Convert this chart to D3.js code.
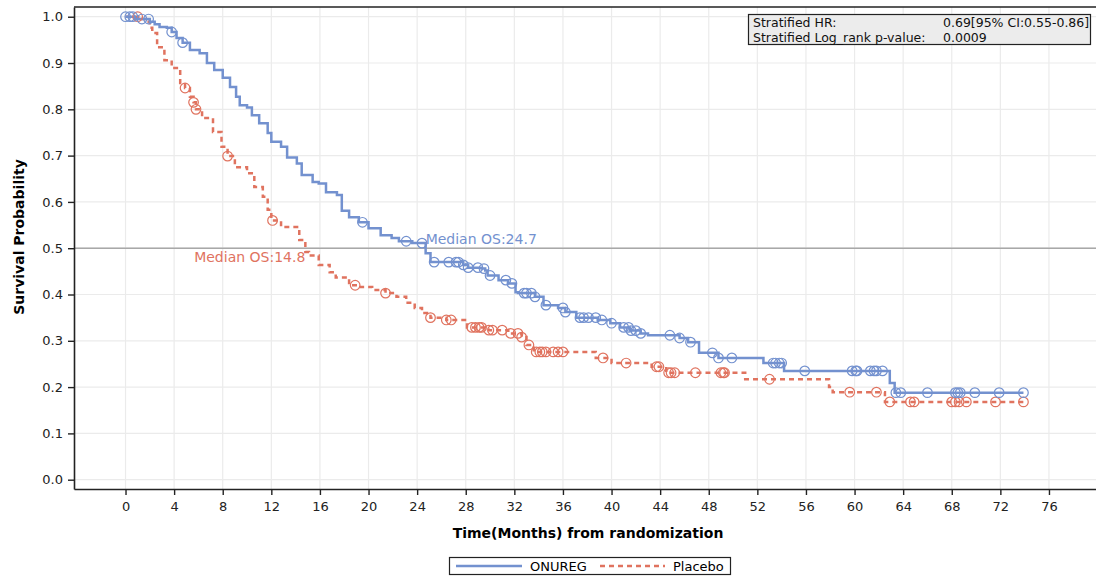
<!DOCTYPE html>
<html>
<head>
<meta charset="utf-8">
<script src="https://cdn.jsdelivr.net/npm/d3@7"></script>
<style>
  body { margin: 0; background: #fff; }
  text { font-family: "DejaVu Sans", sans-serif; }
</style>
</head>
<body>
<script>
// step points (time in months, survival after the drop)
var onuregTime = [0, 0.76, 2.0, 2.4, 2.8, 3.4, 3.8, 4.2, 4.7, 5.3, 6.1, 6.7, 7.3, 8.0, 8.6, 9.1, 9.4, 10.0, 10.4, 11.0, 11.7, 12.0, 12.8, 13.3, 14.1, 14.5, 15.4, 15.9, 16.5, 17.4, 17.8, 18.4, 19.2, 20.0, 21.0, 21.9, 22.5, 23.6, 24.7, 25.1, 27.8, 28.2, 29.3, 29.6, 29.8, 30.7, 31.5, 32.1, 32.3, 33.7, 34.4, 35.6, 36.2, 37.1, 38.9, 39.9, 40.7, 41.5, 42.4, 43.0, 45.6, 46.3, 47.2, 48.8, 52.5, 54.2, 62.9, 63.3, 73.9];
var onuregSurv = [1.0, 0.995, 0.989, 0.984, 0.978, 0.976, 0.967, 0.954, 0.944, 0.928, 0.921, 0.900, 0.885, 0.868, 0.848, 0.827, 0.809, 0.804, 0.787, 0.770, 0.749, 0.730, 0.719, 0.696, 0.683, 0.658, 0.643, 0.640, 0.621, 0.615, 0.581, 0.567, 0.556, 0.543, 0.528, 0.522, 0.515, 0.511, 0.489, 0.470, 0.464, 0.458, 0.456, 0.452, 0.441, 0.431, 0.424, 0.405, 0.403, 0.395, 0.377, 0.371, 0.362, 0.350, 0.345, 0.338, 0.329, 0.322, 0.316, 0.312, 0.306, 0.297, 0.274, 0.263, 0.252, 0.235, 0.209, 0.188, 0.188];
var onuregCensor = [0.0, 0.35, 0.6, 1.35, 1.9, 3.8, 4.7, 19.5, 23.1, 24.4, 25.4, 26.6, 27.2, 27.4, 27.8, 28.2, 29.0, 29.5, 30.0, 31.3, 31.8, 32.8, 33.0, 33.4, 33.7, 34.6, 36.0, 36.2, 37.4, 37.7, 38.1, 38.7, 39.2, 40.0, 41.0, 41.4, 41.6, 42.0, 42.4, 44.8, 45.6, 46.5, 48.3, 48.8, 49.9, 53.3, 53.5, 53.8, 54.0, 55.9, 59.8, 60.1, 60.2, 61.3, 61.6, 61.8, 62.3, 63.4, 63.8, 66.0, 68.3, 68.5, 68.7, 69.9, 71.9, 73.9];

var placeboTime = [0, 1.2, 1.6, 2.0, 2.2, 2.6, 3.2, 3.8, 4.5, 4.9, 5.3, 5.6, 5.8, 6.3, 7.2, 7.9, 8.4, 9.0, 10.0, 10.6, 11.3, 11.7, 12.0, 12.8, 14.3, 14.8, 15.1, 15.9, 16.8, 17.3, 18.4, 19.2, 20.3, 21.4, 22.3, 23.1, 23.8, 24.4, 25.1, 26.4, 28.1, 29.9, 31.5, 32.6, 33.0, 33.6, 38.7, 40.0, 43.3, 44.5, 51.0, 57.9, 58.2, 62.5, 73.9];
var placeboSurv = [1.0, 0.995, 0.989, 0.976, 0.965, 0.934, 0.906, 0.889, 0.857, 0.846, 0.827, 0.815, 0.800, 0.781, 0.751, 0.719, 0.699, 0.675, 0.662, 0.632, 0.611, 0.583, 0.560, 0.546, 0.518, 0.492, 0.484, 0.464, 0.448, 0.437, 0.420, 0.416, 0.410, 0.403, 0.395, 0.382, 0.371, 0.360, 0.350, 0.345, 0.329, 0.323, 0.316, 0.308, 0.291, 0.276, 0.263, 0.252, 0.244, 0.231, 0.217, 0.200, 0.189, 0.168, 0.168];
var placeboCensor = [1.0, 4.9, 5.6, 5.8, 8.4, 12.1, 18.9, 21.4, 25.1, 26.4, 26.8, 28.5, 28.8, 29.1, 29.3, 29.9, 30.2, 31.0, 31.7, 32.3, 32.6, 33.2, 33.8, 34.1, 34.3, 34.6, 35.2, 35.6, 36.0, 39.3, 41.2, 43.7, 43.9, 44.7, 44.9, 45.2, 46.9, 49.0, 49.2, 49.3, 53.0, 59.6, 61.8, 62.9, 64.6, 64.9, 68.0, 68.3, 68.6, 69.2, 71.6, 73.9];

var xTicks = d3.range(0, 77, 4);
var yTicks = d3.range(0, 11).map(function(d){ return d / 10; });
var medians = [24.7, 14.8];
var statLabels = ["Stratified HR:", "Stratified Log_rank p-value:"];
var statValues = ["0.69[95% CI:0.55-0.86]", "0.0009"];
var seriesNames = ["ONUREG", "Placebo"];

window.onload = drawChart();

function drawChart(){
    var blue = "#7391cf", red = "#e0735f";

    var width = 1096, height = 578;
    var svg = d3.select("body").append("svg")
        .attr("width", width)
        .attr("height", height);

    //plot frame
    var pLeft = 74, pRight = 1100, pTop = 7, pBottom = 489;

    var x = d3.scaleLinear().domain([-4.24, 80.2]).range([pLeft, pRight]);
    var y = d3.scaleLinear().domain([-0.0201, 1.021]).range([pBottom, pTop]);

    // grid
    svg.append("g").selectAll("line").data(xTicks).join("line")
        .attr("x1", function(d){ return x(d); }).attr("x2", function(d){ return x(d); })
        .attr("y1", pTop).attr("y2", pBottom)
        .attr("stroke", "#ebebeb").attr("stroke-width", 1.2);
    svg.append("g").selectAll("line").data(yTicks).join("line")
        .attr("x1", pLeft).attr("x2", pRight)
        .attr("y1", function(d){ return y(d); }).attr("y2", function(d){ return y(d); })
        .attr("stroke", "#ebebeb").attr("stroke-width", 1.2);

    // 0.5 reference line
    svg.append("line")
        .attr("x1", pLeft).attr("x2", pRight)
        .attr("y1", y(0.5)).attr("y2", y(0.5))
        .attr("stroke", "#a8a8a8").attr("stroke-width", 1.5);

    // frame top
    svg.append("line")
        .attr("x1", pLeft).attr("x2", pRight).attr("y1", pTop).attr("y2", pTop)
        .attr("stroke", "#222").attr("stroke-width", 1.5);

    // axes
    var xAxis = svg.append("g")
        .attr("transform", "translate(0," + pBottom + ")")
        .call(d3.axisBottom(x).tickValues(xTicks).tickSize(6).tickPadding(7).tickSizeOuter(0));
    var yAxis = svg.append("g")
        .attr("transform", "translate(" + pLeft + ",0)")
        .call(d3.axisLeft(y).tickValues(yTicks).tickFormat(d3.format(".1f")).tickSize(6).tickPadding(5).tickSizeOuter(0));
    [xAxis, yAxis].forEach(function(g){
        g.select(".domain").attr("stroke", "#222").attr("stroke-width", 1.6);
        g.selectAll(".tick line").attr("stroke", "#222").attr("stroke-width", 1.4);
        g.selectAll(".tick text").attr("fill", "#222").style("font-size", "13px")
            .style("font-family", "DejaVu Sans, sans-serif");
    });

    // axis titles
    svg.append("text")
        .attr("x", 588).attr("y", 538)
        .attr("text-anchor", "middle")
        .style("font-size", "14px").style("font-weight", "bold")
        .text("Time(Months) from randomization");
    svg.append("text")
        .attr("transform", "translate(24,237) rotate(-90)")
        .attr("text-anchor", "middle")
        .style("font-size", "14px").style("font-weight", "bold")
        .text("Survival Probability");

    // curves
    function stepData(t, s){
        return t.map(function(d, i){ return [d, s[i]]; });
    }
    function survAt(t, s, time){
        var v = s[0];
        for (var i = 0; i < t.length; i++){ if (t[i] <= time) v = s[i]; }
        return v;
    }
    var line = d3.line()
        .x(function(d){ return x(d[0]); })
        .y(function(d){ return y(d[1]); })
        .curve(d3.curveStepAfter);

    svg.append("path")
        .datum(stepData(placeboTime, placeboSurv))
        .attr("d", line)
        .attr("fill", "none").attr("stroke", red)
        .attr("stroke-width", 2.5).attr("stroke-dasharray", "5,4");
    svg.append("path")
        .datum(stepData(onuregTime, onuregSurv))
        .attr("d", line)
        .attr("fill", "none").attr("stroke", blue)
        .attr("stroke-width", 2.5);

    // censor marks
    svg.append("g").selectAll("circle").data(placeboCensor).join("circle")
        .attr("cx", function(d){ return x(d); })
        .attr("cy", function(d){ return y(survAt(placeboTime, placeboSurv, d)); })
        .attr("r", 4.8).attr("fill", "none").attr("stroke", red).attr("stroke-width", 1.2);
    svg.append("g").selectAll("circle").data(onuregCensor).join("circle")
        .attr("cx", function(d){ return x(d); })
        .attr("cy", function(d){ return y(survAt(onuregTime, onuregSurv, d)); })
        .attr("r", 4.8).attr("fill", "none").attr("stroke", blue).attr("stroke-width", 1.2);

    // median labels
    svg.append("text")
        .attr("x", x(medians[0])).attr("y", y(0.5) - 4)
        .attr("fill", blue).style("font-size", "14px")
        .text("Median OS:" + medians[0]);
    svg.append("text")
        .attr("x", x(medians[1])).attr("y", y(0.5) + 14)
        .attr("text-anchor", "end")
        .attr("fill", red).style("font-size", "14px")
        .text("Median OS:" + medians[1]);

    // stats box
    var box = svg.append("g");
    box.append("rect")
        .attr("x", 748.5).attr("y", 14.5).attr("width", 342).attr("height", 30)
        .attr("fill", "#ececec").attr("stroke", "#222").attr("stroke-width", 1.2);
    statLabels.forEach(function(l, i){
        box.append("text").attr("x", 753).attr("y", 27 + i * 15)
            .style("font-size", "12.5px").attr("fill", "#111").text(l);
        box.append("text").attr("x", 943).attr("y", 27 + i * 15)
            .style("font-size", "12.5px").attr("fill", "#111").text(statValues[i]);
    });

    // legend
    var leg = svg.append("g");
    leg.append("rect")
        .attr("x", 449.5).attr("y", 557.5).attr("width", 281).attr("height", 17)
        .attr("fill", "#fff").attr("stroke", "#222").attr("stroke-width", 1.2);
    leg.append("line").attr("x1", 456).attr("x2", 522).attr("y1", 566).attr("y2", 566)
        .attr("stroke", blue).attr("stroke-width", 2.5);
    leg.append("text").attr("x", 530).attr("y", 571).style("font-size", "13px").text(seriesNames[0]);
    leg.append("line").attr("x1", 600).attr("x2", 665).attr("y1", 566).attr("y2", 566)
        .attr("stroke", red).attr("stroke-width", 2.5).attr("stroke-dasharray", "5,4");
    leg.append("text").attr("x", 673).attr("y", 571).style("font-size", "13px").text(seriesNames[1]);
}
</script>
</body>
</html>
